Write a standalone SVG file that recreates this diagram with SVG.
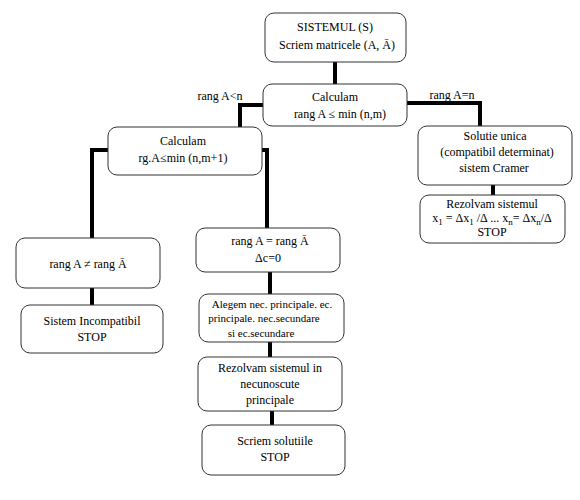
<svg xmlns="http://www.w3.org/2000/svg" width="580" height="500" viewBox="0 0 580 500" font-family="Liberation Serif, Times New Roman, serif">
<style>
.b{fill:#fff;stroke:#333;stroke-width:1}
text{font-size:12px;fill:#000;text-anchor:middle}
.s{font-size:11px}
.c{stroke:#000;stroke-width:4;fill:none}
</style>
<rect width="580" height="500" fill="#fff"/>
<g id="connectors">
<path class="c" d="M335,62V84"/>
<path class="c" d="M263,105H240V127"/>
<path class="c" d="M407,103H480V126"/>
<path class="c" d="M108,150H92V238"/>
<path class="c" d="M262,150H267V228"/>
<path class="c" d="M92,288V305"/>
<path class="c" d="M270,272V294"/>
<path class="c" d="M270,342V357"/>
<path class="c" d="M272,411V425"/>
<path class="c" d="M493,185V195"/>
<text x="220" y="100" font-family="Liberation Serif">rang A&lt;n</text>
<text x="452" y="99" font-family="Liberation Serif">rang A=n</text>
</g>
<g id="n1" font-family="Liberation Serif"><rect class="b" x="265" y="13" width="141" height="49" rx="9"/>
<text x="335" y="31">SISTEMUL (S)</text><text x="337" y="49">Scriem matricele (A, Ā)</text></g>
<g id="n2" font-family="Liberation Serif"><rect class="b" x="263" y="84" width="144" height="42" rx="9"/>
<text x="335" y="101">Calculam</text><text x="340" y="118">rang A ≤ min (n,m)</text></g>
<g id="n3" font-family="Liberation Serif"><rect class="b" x="108" y="127" width="154" height="48" rx="9"/>
<text x="183" y="145">Calculam</text><text x="183" y="162">rg.A≤min (n,m+1)</text></g>
<g id="n4" font-family="Liberation Serif"><rect class="b" x="16" y="238" width="144" height="50" rx="9"/>
<text x="88" y="268">rang A ≠ rang Ā</text></g>
<g id="n5" font-family="Liberation Serif"><rect class="b" x="21" y="305" width="142" height="48" rx="9"/>
<text x="92" y="325">Sistem  Incompatibil</text><text x="92" y="341">STOP</text></g>
<g id="n6" font-family="Liberation Serif"><rect class="b" x="196" y="228" width="144" height="44" rx="9"/>
<text x="270" y="245">rang A = rang Ā</text><text x="268" y="262">Δc=0</text></g>
<g id="n7" font-family="Liberation Serif"><rect class="b" x="199" y="294" width="145" height="48" rx="9"/>
<text class="s" x="272" y="308">Alegem nec. principale. ec.</text><text class="s" x="264" y="322">principale. nec.secundare</text><text class="s" x="261" y="337">si ec.secundare</text></g>
<g id="n8" font-family="Liberation Serif"><rect class="b" x="198" y="357" width="144" height="54" rx="9"/>
<text x="270" y="372">Rezolvam sistemul in</text><text x="270" y="388">necunoscute</text><text x="270" y="404">principale</text></g>
<g id="n9" font-family="Liberation Serif"><rect class="b" x="202" y="425" width="143" height="50" rx="9"/>
<text x="275" y="445">Scriem solutiile</text><text x="275" y="461">STOP</text></g>
<g id="n10" font-family="Liberation Serif"><rect class="b" x="418" y="126" width="154" height="59" rx="9"/>
<text x="495" y="140">Solutie unica</text><text x="497" y="156">(compatibil determinat)</text><text x="494" y="172">sistem Cramer</text></g>
<g id="n11" font-family="Liberation Serif"><rect class="b" x="420" y="195" width="145" height="48" rx="9"/>
<text x="492" y="208">Rezolvam sistemul</text><text x="492" y="222">x<tspan dy="3" font-size="9">1</tspan><tspan dy="-3"> = Δx</tspan><tspan dy="3" font-size="9">1</tspan><tspan dy="-3"> /Δ ... x</tspan><tspan dy="3" font-size="9">n</tspan><tspan dy="-3">= Δx</tspan><tspan dy="3" font-size="9">n</tspan><tspan dy="-3">/Δ</tspan></text><text x="492" y="236">STOP</text></g>
</svg>
